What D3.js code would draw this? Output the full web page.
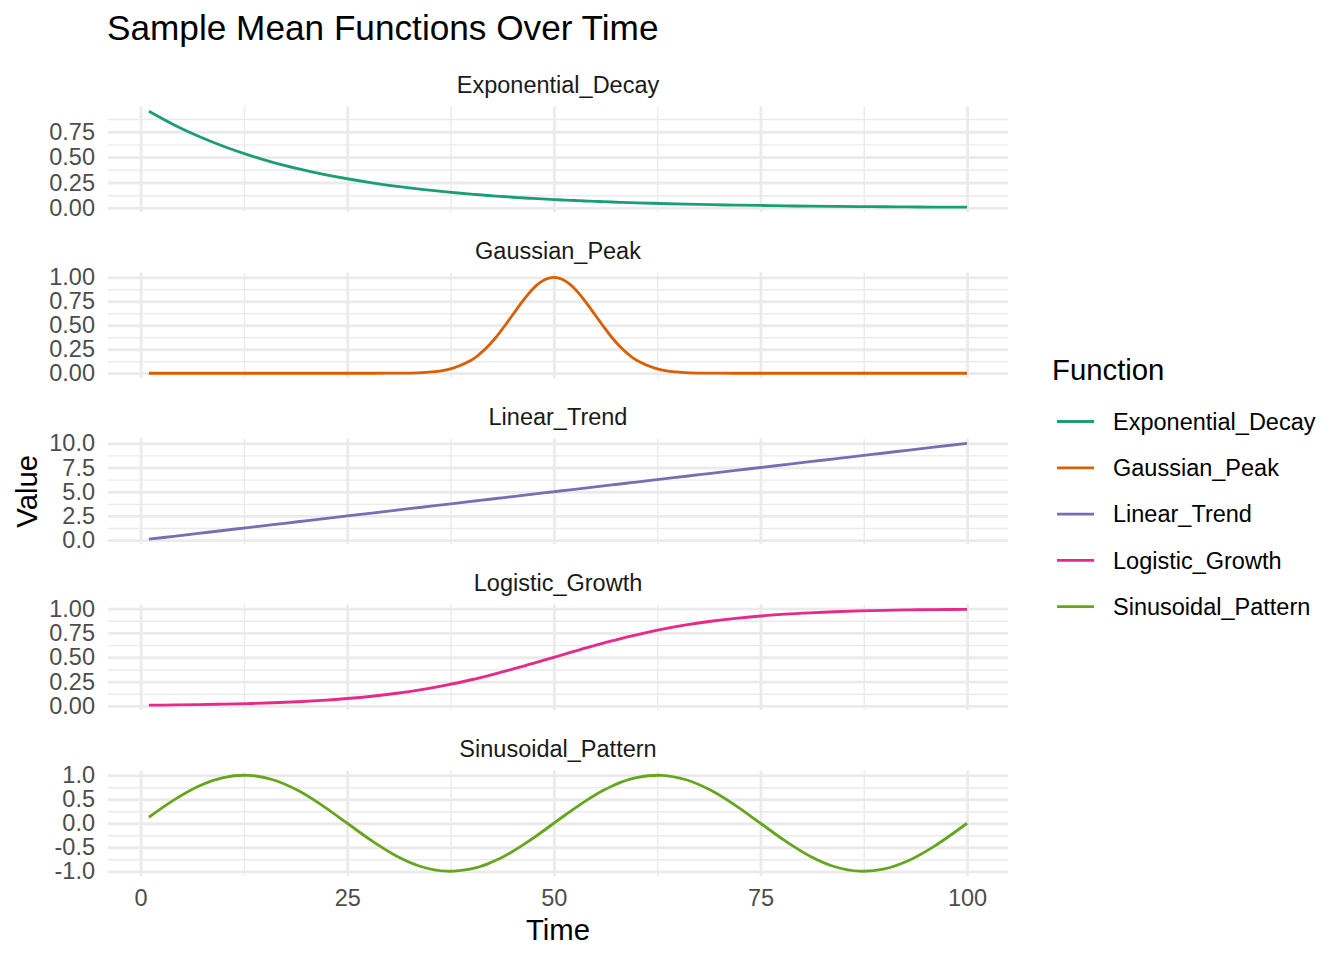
<!DOCTYPE html>
<html>
<head>
<meta charset="utf-8">
<script src="https://cdn.jsdelivr.net/npm/d3@7"></script>
<style>
    body { margin: 0; background: #fff; }
    text { font-family: 'Liberation Sans', Arial, Helvetica, sans-serif; }
</style>
</head>
<body>
<div id="chart"></div>
<script>
const times = [1, 4, 7, 10, 13, 16, 19, 22, 25, 28, 31, 34, 37, 40,
    41, 42, 43, 44, 45, 46, 47, 48, 49, 50, 51, 52, 53, 54, 55, 56, 57, 58, 59, 60,
    63, 66, 69, 72, 75, 78, 81, 84, 87, 90, 93, 96, 100];

const exponentialDecay = [0.951, 0.819, 0.705, 0.607, 0.522, 0.449, 0.387, 0.333, 0.287, 0.247,
    0.212, 0.183, 0.157, 0.135,
    0.129, 0.122, 0.116, 0.111, 0.105, 0.100, 0.095, 0.091, 0.086, 0.082,
    0.078, 0.074, 0.071, 0.067, 0.064, 0.061, 0.058, 0.055, 0.052, 0.050,
    0.043, 0.037, 0.032, 0.027, 0.024, 0.020, 0.017, 0.015, 0.013, 0.011, 0.0096, 0.0082, 0.0067];

const gaussianPeak = [0, 0, 0, 0, 0, 0, 0, 0, 0, 0, 0.001, 0.006, 0.034, 0.135,
    0.198, 0.278, 0.375, 0.487, 0.607, 0.726, 0.835, 0.923, 0.980, 1.0,
    0.980, 0.923, 0.835, 0.726, 0.607, 0.487, 0.375, 0.278, 0.198, 0.135,
    0.034, 0.006, 0.0007, 0, 0, 0, 0, 0, 0, 0, 0, 0, 0];

const linearTrend = [0.1, 0.4, 0.7, 1.0, 1.3, 1.6, 1.9, 2.2, 2.5, 2.8, 3.1, 3.4, 3.7, 4.0,
    4.1, 4.2, 4.3, 4.4, 4.5, 4.6, 4.7, 4.8, 4.9, 5.0, 5.1, 5.2, 5.3, 5.4, 5.5, 5.6, 5.7, 5.8, 5.9, 6.0,
    6.3, 6.6, 6.9, 7.2, 7.5, 7.8, 8.1, 8.4, 8.7, 9.0, 9.3, 9.6, 10.0];

const logisticGrowth = [0.0074, 0.0100, 0.0134, 0.0180, 0.0241, 0.0323, 0.0431, 0.0573, 0.0759,
    0.0998, 0.130, 0.168, 0.214, 0.269,
    0.289, 0.310, 0.332, 0.354, 0.378, 0.401, 0.426, 0.450, 0.475, 0.500,
    0.525, 0.550, 0.574, 0.599, 0.622, 0.646, 0.668, 0.690, 0.711, 0.731,
    0.786, 0.832, 0.870, 0.900, 0.924, 0.943, 0.957, 0.968, 0.976, 0.982, 0.987, 0.990, 0.993];

const sinusoidalPattern = [0.125, 0.482, 0.771, 0.951, 0.998, 0.905, 0.685, 0.368, 0, -0.368,
    -0.685, -0.905, -0.998, -0.951,
    -0.905, -0.844, -0.771, -0.685, -0.588, -0.482, -0.368, -0.249, -0.125, 0,
    0.125, 0.249, 0.368, 0.482, 0.588, 0.685, 0.771, 0.844, 0.905, 0.951,
    0.998, 0.905, 0.685, 0.368, 0, -0.368, -0.685, -0.905, -0.998, -0.951, -0.771, -0.482, 0];

const seriesNames = ['Exponential_Decay', 'Gaussian_Peak', 'Linear_Trend', 'Logistic_Growth', 'Sinusoidal_Pattern'];
const seriesValues = [exponentialDecay, gaussianPeak, linearTrend, logisticGrowth, sinusoidalPattern];
const seriesColors = ['#1B9E77', '#D95F02', '#7570B3', '#E7298A', '#66A61E'];

const yTickValues = [
    [0, 0.25, 0.5, 0.75],
    [0, 0.25, 0.5, 0.75, 1],
    [0, 2.5, 5, 7.5, 10],
    [0, 0.25, 0.5, 0.75, 1],
    [-1, -0.5, 0, 0.5, 1],
];
const yTickLabels = [
    ['0.00', '0.25', '0.50', '0.75'],
    ['0.00', '0.25', '0.50', '0.75', '1.00'],
    ['0.0', '2.5', '5.0', '7.5', '10.0'],
    ['0.00', '0.25', '0.50', '0.75', '1.00'],
    ['-1.0', '-0.5', '0.0', '0.5', '1.0'],
];
const xTickValues = [0, 25, 50, 75, 100];
const xTickLabels = ['0', '25', '50', '75', '100'];

// layout
const width = 1344, height = 960;
const panelLeft = 108, panelRight = 1008;
const panelTop = 106.5, panelStep = 166, panelH = 105.5;
const gridColor = '#EBEBEB';
const fontStack = "'Liberation Sans', Arial, sans-serif";

// ggplot style 5% expansion
function expand(ext) {
    let r = ext[1] - ext[0];
    return [ext[0] - r * 0.05, ext[1] + r * 0.05];
}

// minor breaks halfway between majors, extended one step past the ends
function minorBreaks(major, domain) {
    let step = major[1] - major[0];
    let b = major.slice();
    if (domain[0] < b[0]) b.unshift(b[0] - step);
    if (domain[1] > b[b.length - 1]) b.push(b[b.length - 1] + step);
    let out = [];
    for (let i = 0; i < b.length - 1; i++) out.push((b[i] + b[i + 1]) / 2);
    return out.filter((v) => v >= domain[0] && v <= domain[1]);
}

function gridLines(g, axis, transform, w) {
    g.append('g')
        .attr('transform', transform)
        .call(axis)
        .call((a) => a.select('.domain').remove())
        .selectAll('line')
        .attr('stroke', gridColor)
        .attr('stroke-width', w);
}

let svg = d3.select('#chart')
    .append('svg')
    .attr('width', width)
    .attr('height', height);

svg.append('rect').attr('width', width).attr('height', height).attr('fill', '#fff');

let x = d3.scaleLinear().domain(expand(d3.extent(times))).range([panelLeft, panelRight]);
let xMinor = minorBreaks(xTickValues, x.domain());

seriesNames.forEach(function (name, i) {
    let values = seriesValues[i];
    let top = panelTop + i * panelStep;
    let y = d3.scaleLinear().domain(expand(d3.extent(values))).range([top + panelH, top]);
    let yMinor = minorBreaks(yTickValues[i], y.domain());
    let bottomT = 'translate(0,' + (top + panelH) + ')';
    let leftT = 'translate(' + panelLeft + ',0)';

    let g = svg.append('g').attr('class', 'panel');

    // minor grid, then major grid
    gridLines(g, d3.axisBottom(x).tickValues(xMinor).tickSize(-panelH).tickFormat(''), bottomT, 1.42);
    gridLines(g, d3.axisLeft(y).tickValues(yMinor).tickSize(-(panelRight - panelLeft)).tickFormat(''), leftT, 1.42);
    gridLines(g, d3.axisBottom(x).tickValues(xTickValues).tickSize(-panelH).tickFormat(''), bottomT, 2.84);
    gridLines(g, d3.axisLeft(y).tickValues(yTickValues[i]).tickSize(-(panelRight - panelLeft)).tickFormat(''), leftT, 2.84);

    // y tick labels
    let yLab = g.append('g')
        .attr('transform', leftT)
        .call(d3.axisLeft(y).tickValues(yTickValues[i]).tickSize(0).tickPadding(13)
            .tickFormat((d, j) => yTickLabels[i][j]));
    yLab.select('.domain').remove();
    yLab.selectAll('text')
        .style('font-family', fontStack)
        .style('font-size', '23.5px')
        .attr('fill', '#4D4D4D');

    // strip title
    g.append('text')
        .attr('x', (panelLeft + panelRight) / 2)
        .attr('y', top - 14)
        .attr('text-anchor', 'middle')
        .style('font-size', '23.5px')
        .attr('fill', '#1A1A1A')
        .text(name);

    // the series line
    let line = d3.line()
        .x((d, j) => x(times[j]))
        .y((d) => y(d))
        .curve(d3.curveCatmullRom.alpha(0.5));

    g.append('path')
        .datum(values)
        .attr('fill', 'none')
        .attr('stroke', seriesColors[i])
        .attr('stroke-width', 2.84)
        .attr('d', line);

    // x tick labels under the bottom panel only
    if (i === seriesNames.length - 1) {
        let xLab = g.append('g')
            .attr('transform', bottomT)
            .call(d3.axisBottom(x).tickValues(xTickValues).tickSize(0).tickPadding(13)
                .tickFormat((d, j) => xTickLabels[j]));
        xLab.select('.domain').remove();
        xLab.selectAll('text')
            .style('font-family', fontStack)
            .style('font-size', '23.5px')
            .attr('fill', '#4D4D4D');
    }
});

// titles
svg.append('text')
    .attr('x', 107)
    .attr('y', 40)
    .style('font-size', '35.2px')
    .attr('fill', '#000')
    .text('Sample Mean Functions Over Time');

svg.append('text')
    .attr('x', (panelLeft + panelRight) / 2)
    .attr('y', 940)
    .attr('text-anchor', 'middle')
    .style('font-size', '29.3px')
    .attr('fill', '#000')
    .text('Time');

svg.append('text')
    .attr('transform', 'translate(37,' + ((panelTop + panelTop + 4 * panelStep + panelH) / 2) + ') rotate(-90)')
    .attr('text-anchor', 'middle')
    .style('font-size', '29.3px')
    .attr('fill', '#000')
    .text('Value');

// legend
let legend = svg.append('g').attr('class', 'legend');
legend.append('text')
    .attr('x', 1052)
    .attr('y', 380)
    .style('font-size', '29.3px')
    .attr('fill', '#000')
    .text('Function');

let items = legend.selectAll('.item')
    .data(seriesNames)
    .enter()
    .append('g')
    .attr('class', 'item')
    .attr('transform', (d, i) => 'translate(0,' + (421.5 + i * 46.3) + ')');

items.append('line')
    .attr('x1', 1057)
    .attr('x2', 1094)
    .attr('stroke', (d, i) => seriesColors[i])
    .attr('stroke-width', 2.84);

items.append('text')
    .attr('x', 1113)
    .attr('dy', '0.35em')
    .style('font-size', '23.5px')
    .attr('fill', '#000')
    .text((d) => d);
</script>
</body>
</html>
